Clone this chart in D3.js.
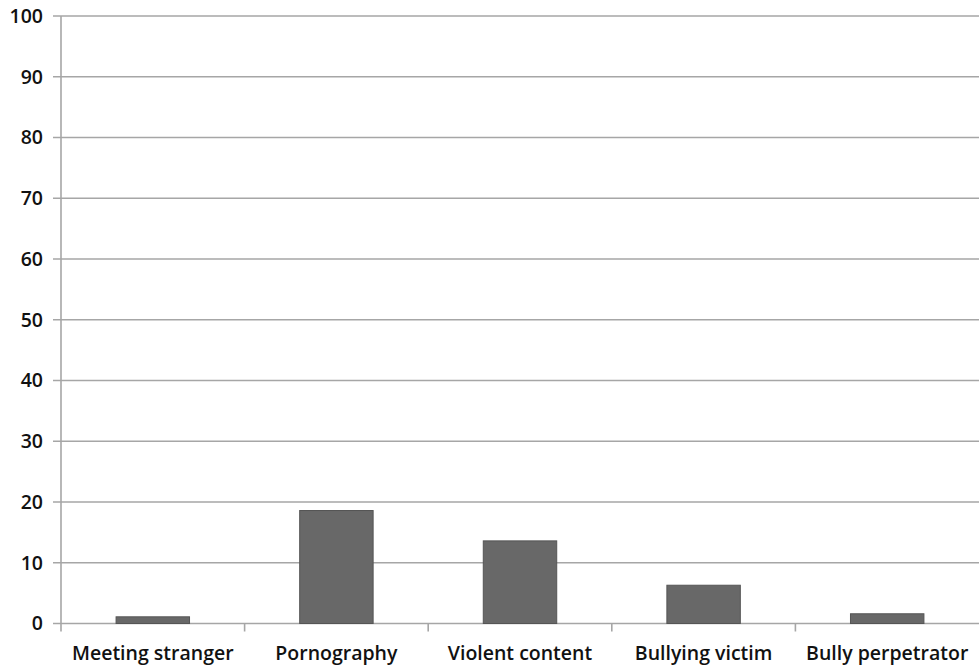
<!DOCTYPE html>
<html>
<head>
<meta charset="utf-8">
<script src="https://cdn.jsdelivr.net/npm/d3@7"></script>
<style>
  body { margin: 0; background: #fff; }
  svg text { font-family: "Open Sans", "Noto Sans", sans-serif; fill: #111; font-weight: 600; }
</style>
</head>
<body>
<svg id="chart"></svg>
<script>
const categories = ["Meeting stranger", "Pornography", "Violent content", "Bullying victim", "Bully perpetrator"];
const values = [1.1, 18.6, 13.6, 6.3, 1.6];
const yTicks = [0, 10, 20, 30, 40, 50, 60, 70, 80, 90, 100];

const width = 979, height = 669;
const margin = {top: 16, right: 0, bottom: 45, left: 61};

const svg = d3.select("#chart")
    .attr("width", width)
    .attr("height", height);

const x = d3.scaleBand()
    .domain(categories)
    .range([margin.left, width - margin.right])
    .padding(0);

const y = d3.scaleLinear()
    .domain([0, 100])
    .range([height - margin.bottom - 0.5, margin.top]);

// gridlines + y labels
svg.append("g")
    .selectAll("line")
    .data(yTicks)
    .join("line")
    .attr("x1", margin.left - 8)
    .attr("x2", width)
    .attr("y1", d => y(d))
    .attr("y2", d => y(d))
    .style("stroke", "#a6a6a6")
    .style("stroke-width", "1.6px");

svg.append("g")
    .selectAll("text")
    .data(yTicks)
    .join("text")
    .attr("x", 43)
    .attr("y", d => y(d))
    .attr("dy", "0.35em")
    .attr("text-anchor", "end")
    .style("font-size", "19.5px")
    .text(d => d);

// bars
const barW = x.bandwidth() * 0.4;
svg.append("g")
    .selectAll("rect")
    .data(values)
    .join("rect")
    .attr("x", (d, i) => x(categories[i]) + (x.bandwidth() - barW) / 2)
    .attr("y", d => y(d))
    .attr("width", barW)
    .attr("height", d => y(0) - y(d))
    .style("fill", "#686868")
    .style("stroke", "#555")
    .style("stroke-width", "1px");

// y axis line
svg.append("line")
    .attr("x1", margin.left).attr("x2", margin.left)
    .attr("y1", margin.top).attr("y2", y(0) + 8)
    .style("stroke", "#a6a6a6")
    .style("stroke-width", "1.6px");

// category tick marks
svg.append("g")
    .selectAll("line")
    .data(categories.slice(1))
    .join("line")
    .attr("x1", d => x(d)).attr("x2", d => x(d))
    .attr("y1", y(0)).attr("y2", y(0) + 8)
    .style("stroke", "#a6a6a6")
    .style("stroke-width", "1.6px");

// category labels
svg.append("g")
    .selectAll("text")
    .data(categories)
    .join("text")
    .attr("x", d => x(d) + x.bandwidth() / 2)
    .attr("y", y(0) + 36)
    .attr("text-anchor", "middle")
    .style("font-size", "19.5px")
    .text(d => d);
</script>
</body>
</html>
